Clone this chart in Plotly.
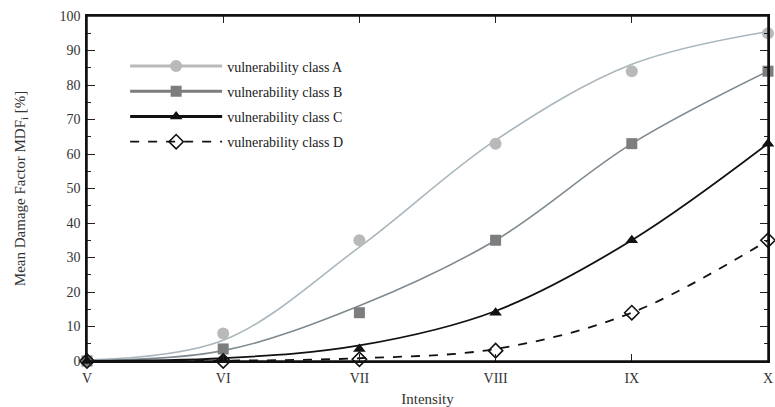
import plotly.graph_objects as go

intensity = [5, 6, 7, 8, 9, 10]
tick_labels = ["V", "VI", "VII", "VIII", "IX", "X"]

# observed points (markers)
class_a = [0, 8, 35, 63, 84, 95]
class_b = [0, 3.5, 14, 35, 63, 84]
class_c = [0, 0.5, 3.5, 14, 35, 63]
class_d = [0, 0, 0.5, 3, 14, 35]

# fitted curves read at each intensity
curve_a = [0.3, 6, 33, 64, 86, 95.5]
curve_b = [0.1, 3, 16, 35, 63, 84]
curve_c = [0, 0.8, 4.5, 14.5, 35, 63]
curve_d = [0, 0.1, 0.8, 3.5, 14, 35]

names = ["vulnerability class A", "vulnerability class B",
         "vulnerability class C", "vulnerability class D"]

styles = [
    dict(color="#b9b9b9", line="#aab6bd", dash="solid", symbol="circle", size=12, mline=0, fill="#b9b9b9"),
    dict(color="#7d7d7d", line="#7f8a90", dash="solid", symbol="square", size=11, mline=0, fill="#7d7d7d"),
    dict(color="#111111", line="#111111", dash="solid", symbol="triangle-up", size=11, mline=0, fill="#111111"),
    dict(color="#111111", line="#111111", dash="dash", symbol="diamond-open", size=11, mline=1.6, fill="#111111"),
]

markers = [class_a, class_b, class_c, class_d]
curves = [curve_a, curve_b, curve_c, curve_d]

SERIF = "Liberation Serif, Times New Roman, DejaVu Serif, serif"

fig = go.Figure()
for i in range(4):
    s = styles[i]
    fig.add_trace(go.Scatter(
        x=intensity, y=curves[i], mode="lines",
        line=dict(color=s["line"], width=1.6 if i < 2 else 1.8, dash=s["dash"], shape="spline", smoothing=1.0),
        showlegend=False, hoverinfo="skip"))
for i in range(4):
    s = styles[i]
    fig.add_trace(go.Scatter(
        x=intensity, y=markers[i], mode="markers",
        marker=dict(symbol=s["symbol"], size=s["size"], color=s["fill"],
                    line=dict(width=s["mline"], color=s["fill"])),
        cliponaxis=False, showlegend=False))
for i in range(4):
    s = styles[i]
    fig.add_trace(go.Scatter(
        x=[None], y=[None], mode="lines+markers", name=names[i],
        legendgroup=str(i),
        line=dict(color=s["color"], width=3 if i < 3 else 1.8, dash=s["dash"]),
        marker=dict(symbol=s["symbol"], size=s["size"], color=s["fill"],
                    line=dict(width=s["mline"], color=s["fill"]))))

fig.update_layout(
    width=775, height=407,
    margin=dict(l=87, r=7, t=16, b=46, autoexpand=False),
    plot_bgcolor="white", paper_bgcolor="white",
    font=dict(family=SERIF, size=13, color="#333"),
    showlegend=True,
    legend=dict(x=0.056, y=0.9, xanchor="left", yanchor="top",
                bgcolor="rgba(0,0,0,0)", itemwidth=92,
                font=dict(family=SERIF, size=14, color="#222"),
                traceorder="grouped", tracegroupgap=4),
    shapes=[dict(type="rect", xref="paper", yref="paper", x0=0, x1=1, y0=0, y1=1,
                 line=dict(color="#111", width=1.5), layer="above")],
    xaxis=dict(range=[5, 10], tickmode="array", tickvals=intensity, ticktext=tick_labels,
               ticks="inside", ticklen=7, tickcolor="#222", showline=True, linecolor="#111",
               linewidth=1.5, mirror="ticks", showgrid=False, zeroline=False,
               tickfont=dict(family=SERIF, size=14), automargin=False, ticklabeloverflow="allow",
               ticklabelstandoff=3,
               title=dict(text="Intensity", font=dict(family=SERIF, size=15), standoff=9)),
    yaxis=dict(range=[0, 100], dtick=10, ticks="inside", ticklen=8, tickcolor="#222",
               showline=True, linecolor="#111", linewidth=1.5, mirror="ticks",
               showgrid=False, zeroline=False, tickfont=dict(family=SERIF, size=14),
               automargin=False, ticklabeloverflow="allow", ticklabelstandoff=2,
               minor=dict(dtick=5, ticks="inside", ticklen=4, tickcolor="#222"),
               title=dict(text="Mean Damage Factor MDF<sub>i</sub> [%]",
                          font=dict(family=SERIF, size=15), standoff=30)),
)

fig.write_html("out.html",
               config={"displayModeBar": False},
               post_script="document.body.style.margin='0';document.body.style.overflow='hidden';")
